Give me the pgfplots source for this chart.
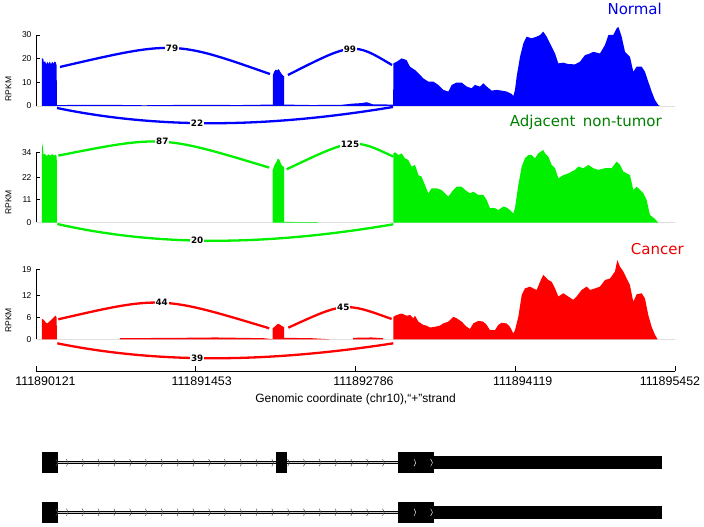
\documentclass[border=0pt]{standalone}
\usepackage{pgfplots}
\pgfplotsset{compat=1.18}
\usepackage{fontspec}
\setmainfont{Liberation Sans}
\newfontfamily\dejavu{DejaVu Sans}
\definecolor{cblue}{RGB}{0,0,255}
\definecolor{cgreen}{RGB}{0,240,0}
\definecolor{cred}{RGB}{255,0,0}
\definecolor{tgreen}{RGB}{0,128,0}
\definecolor{tblue}{RGB}{0,0,230}
\definecolor{tred}{RGB}{235,0,0}
\pgfdeclareplotmark{chev}{%
  \pgfpathmoveto{\pgfqpoint{-0.9pt}{3.6pt}}%
  \pgfpathlineto{\pgfqpoint{0.9pt}{0pt}}%
  \pgfpathlineto{\pgfqpoint{-0.9pt}{-3.6pt}}%
  \pgfusepathqstroke}
\pgfplotsset{
  panel/.style={scale only axis, width=639pt, xmin=0, xmax=5331, ymin=0,
    axis x line=none, axis y line*=left, clip=false, tick align=inside,
    major tick length=4pt, axis line style={line width=0.9pt, black},
    major tick style={line width=0.9pt, black},
    yticklabel style={font=\fontsize{8.5}{10}\selectfont, xshift=-1pt},
    /pgf/number format/assume math mode=true, anchor=south west}
}
\tikzset{jl/.style={fill=white, inner sep=0.8pt, text=black, font=\dejavu\bfseries\fontsize{8.8}{10}\selectfont}}
\begin{document}
\begin{tikzpicture}[x=1pt,y=1pt]
\path[use as bounding box] (0,0) rectangle (704,527);

% ---------------- Normal ----------------
\begin{axis}[panel, at={(36pt,421pt)}, height=71pt, ymax=30, ytick={0,10,20,30}]
\addplot[gray!25, line width=0.6pt] coordinates {(0,0)(5331,0)};
\addplot[fill=cblue, draw=none] coordinates {(50,0)(50,20.1)(60,20)(66,18.3)(75,19)(85,17.6)(95,18.6)(105,17.8)(115,18.8)(125,17.6)(135,18.7)(145,17.9)(155,18.8)(165,18.4)(172,17.2)(175,0)} \closedcycle;
\addplot[fill=cblue, draw=none] coordinates {(175,0)(175,0.4)(600,0.5)(900,0.3)(1300,0.5)(1700,0.4)(1977,0.6)(1977,0)} \closedcycle;
\addplot[fill=cblue, draw=none] coordinates {(1977,0)(1977,13.2)(1988,14.6)(2000,15.4)(2012,15.0)(2025,15.6)(2038,14.4)(2050,13.5)(2062,12.8)(2069,12.6)(2069,0)} \closedcycle;
\addplot[fill=cblue, draw=none] coordinates {(2069,0)(2069,0.6)(2300,0.4)(2550,0.5)(2640,1.0)(2710,1.2)(2760,1.6)(2810,0.7)(2980,0.6)(2980,0)} \closedcycle;
\addplot[fill=cblue, draw=none] coordinates {(2980,0)(2981,18.0)(3009,18.7)(3050,20.1)(3092,19.4)(3120,16.6)(3162,15.2)(3190,13.8)(3231,11.7)(3273,10.3)(3315,10.3)(3356,8.9)(3398,6.8)(3440,6.1)(3468,8.9)(3509,9.9)(3551,9.9)(3593,8.2)(3635,7.5)(3662,8.9)(3704,8.2)(3732,9.6)(3760,8.2)(3801,6.5)(3843,6.8)(3885,6.5)(3926,6.1)(3968,5.1)(3982,4.2)(3996,6.8)(4010,12.4)(4038,20.8)(4066,26.5)(4093,29.3)(4135,28.6)(4177,29.3)(4205,30.0)(4232,31.4)(4260,29.3)(4288,26.5)(4330,22.2)(4358,18.0)(4399,18.3)(4441,17.7)(4497,17.6)(4538,18.7)(4580,21.5)(4622,22.2)(4649,22.9)(4705,22.2)(4747,25.8)(4775,30.0)(4816,30.0)(4844,32.8)(4858,33.5)(4886,29.3)(4914,22.9)(4955,20.8)(4983,14.5)(5011,16.6)(5053,16.6)(5080,14.5)(5108,10.3)(5136,6.1)(5164,2.5)(5192,0.4)(5206,0)} \closedcycle;
\draw[cblue, line width=2.3pt] (axis cs:200,16.5) .. controls (axis cs:1155,27.7) .. (axis cs:1952,13.5) node[jl, pos=0.5] {79};
\draw[cblue, line width=2.3pt] (axis cs:2102,13.1) .. controls (axis cs:2647,27.1) .. (axis cs:2970,17.3) node[jl, pos=0.5] {99};
\draw[cblue, line width=2.3pt] (axis cs:175,-0.85) .. controls (axis cs:1000,-9.5) and (axis cs:1900,-9.5) .. (axis cs:2978,-0.42) node[jl, pos=0.45] {22};
\end{axis}

% ---------------- Adjacent ----------------
\begin{axis}[panel, at={(36pt,304.3pt)}, height=70.4pt, ymax=34, ytick={0,11,22,34}]
\addplot[gray!25, line width=0.6pt] coordinates {(0,0)(5331,0)};
\addplot[fill=cgreen, draw=none] coordinates {(50,0)(50,33)(53,38.8)(58,36)(63,32.8)(75,33.2)(90,32.2)(105,33)(120,32.4)(135,33.1)(150,32.4)(165,32.8)(173,32)(175,0)} \closedcycle;
\addplot[fill=cgreen, draw=none] coordinates {(1975,0)(1975,25.5)(1990,27.8)(2005,29.3)(2018,31.0)(2030,30.4)(2045,28.2)(2060,27.2)(2071,26.8)(2071,0)} \closedcycle;
\addplot[fill=cgreen, draw=none] coordinates {(2071,0)(2071,0.4)(2200,0.3)(2350,0.3)(2350,0)} \closedcycle;
\addplot[fill=cgreen, draw=none] coordinates {(2981,0)(2981,33.5)(2995,34.0)(3023,32.7)(3050,33.5)(3078,31.1)(3106,30.3)(3134,27.1)(3162,27.9)(3190,23.0)(3217,22.2)(3245,18.2)(3273,14.2)(3301,16.6)(3342,16.6)(3384,15.8)(3412,14.2)(3440,12.6)(3482,15.8)(3509,17.4)(3551,17.4)(3579,15.8)(3621,14.2)(3648,15.0)(3690,13.4)(3732,13.4)(3760,11.0)(3787,7.0)(3829,7.0)(3857,6.1)(3899,7.8)(3926,7.3)(3954,6.1)(3982,4.5)(3996,7.0)(4024,18.2)(4052,27.1)(4079,31.1)(4107,32.7)(4135,32.7)(4163,31.1)(4191,33.5)(4232,35.1)(4246,33.5)(4274,31.9)(4302,27.9)(4330,26.3)(4358,21.4)(4399,23.0)(4441,23.8)(4497,25.5)(4524,27.1)(4566,26.3)(4608,27.9)(4649,26.3)(4691,25.5)(4747,26.3)(4802,26.3)(4844,29.5)(4872,27.9)(4900,24.7)(4928,23.8)(4955,23.0)(4983,15.8)(5011,17.4)(5039,15.8)(5067,14.2)(5094,11.0)(5122,3.7)(5164,1.8)(5192,0)} \closedcycle;
\draw[cgreen, line width=2.3pt] (axis cs:186,32.4) .. controls (axis cs:1050,42.3) .. (axis cs:1946,26.6) node[jl, pos=0.5] {87};
\draw[cgreen, line width=2.3pt] (axis cs:2091,25.8) .. controls (axis cs:2647,41.05) .. (axis cs:2981,31.9) node[jl, pos=0.5] {125};
\draw[cgreen, line width=2.3pt] (axis cs:178,-0.63) .. controls (axis cs:1000,-11.4) and (axis cs:1900,-11.4) .. (axis cs:2981,-0.77) node[jl, pos=0.45] {20};
\end{axis}

% ---------------- Cancer ----------------
\begin{axis}[panel, at={(36pt,187.7pt)}, height=70pt, ymax=19, ytick={0,6,12,19}]
\addplot[gray!25, line width=0.6pt] coordinates {(0,0)(5331,0)};
\addplot[fill=cred, draw=none] coordinates {(50,0)(50,5.5)(65,5.3)(80,4.6)(95,4.3)(110,4.8)(125,5.2)(140,5.7)(155,6.2)(165,6.4)(172,5.9)(175,0)} \closedcycle;
\addplot[fill=cred, draw=none] coordinates {(700,0)(700,0.3)(1200,0.4)(1500,0.5)(1900,0.3)(1975,0)} \closedcycle;
\addplot[fill=cred, draw=none] coordinates {(1975,0)(1975,3.0)(1990,3.4)(2005,3.9)(2020,4.2)(2035,4.0)(2050,3.6)(2065,3.4)(2071,3.3)(2071,0)} \closedcycle;
\addplot[fill=cred, draw=none] coordinates {(2071,0)(2071,0.4)(2300,0.3)(2450,0)} \closedcycle;
\addplot[fill=cred, draw=none] coordinates {(2645,0)(2645,0.4)(2800,0.5)(2895,0.3)(2895,0)} \closedcycle;
\addplot[fill=cred, draw=none] coordinates {(2981,0)(2981,6.1)(3009,6.6)(3050,7.0)(3092,6.4)(3120,6.6)(3148,5.7)(3162,6.4)(3190,4.8)(3231,3.9)(3259,3.7)(3287,3.2)(3329,3.4)(3370,3.7)(3398,4.3)(3440,4.8)(3482,6.1)(3509,5.7)(3551,4.8)(3593,3.4)(3621,2.8)(3648,4.3)(3690,5.0)(3732,4.8)(3760,3.9)(3787,2.5)(3829,2.5)(3857,3.9)(3885,4.5)(3926,4.3)(3954,3.4)(3982,1.6)(3996,2.5)(4024,6.1)(4052,12.0)(4079,13.8)(4121,14.3)(4149,13.8)(4177,13.4)(4205,15.6)(4232,17.5)(4274,16.1)(4302,15.6)(4330,13.8)(4358,11.6)(4399,12.5)(4441,11.6)(4483,10.7)(4510,11.6)(4552,13.4)(4594,14.3)(4622,13.4)(4663,13.8)(4705,14.3)(4747,16.1)(4789,16.5)(4830,18.4)(4850,21.5)(4872,19.7)(4900,18.4)(4928,16.5)(4955,14.7)(4983,10.2)(5011,12.2)(5053,12.5)(5080,11.1)(5108,6.6)(5136,3.4)(5164,1.2)(5186,0)} \closedcycle;
\draw[cred, line width=2.3pt] (axis cs:186,5.43) .. controls (axis cs:1043,11.84) .. (axis cs:1946,2.99) node[jl, pos=0.5] {44};
\draw[cred, line width=2.3pt] (axis cs:2105,3.15) .. controls (axis cs:2573,10.14) .. (axis cs:2967,5.51) node[jl, pos=0.5] {45};
\draw[cred, line width=2.3pt] (axis cs:178,-1.09) .. controls (axis cs:1000,-6.5) and (axis cs:1900,-6.5) .. (axis cs:2981,-1.09) node[jl, pos=0.45] {39};
\end{axis}

% ---------------- coordinate ruler ----------------
\begin{axis}[scale only axis, width=639pt, height=20pt, at={(36pt,155.5pt)}, anchor=south west,
  xmin=0, xmax=5331, ymin=0, ymax=1, axis x line*=bottom, axis y line=none,
  xtick={0,1332,2665,3998,5331},
  xticklabels={\hspace*{19pt}111890121,\hspace*{12pt}111891453,\hspace*{16pt}111892786,\hspace*{15pt}111894119,111895452\hspace*{10pt}},
  tick align=inside, major tick length=5.5pt,
  axis line style={line width=0.9pt, black}, major tick style={line width=0.9pt, black},
  xticklabel style={font=\fontsize{12.4}{14}\selectfont, yshift=-1.5pt},
  xlabel={Genomic coordinate (chr10),“+”strand},
  xlabel style={font=\fontsize{12}{14}\selectfont, yshift=-2pt}]
\addplot[draw=none] coordinates {(0,0)};
\end{axis}

% ---------------- gene models ----------------
\begin{axis}[scale only axis, width=639pt, height=100pt, at={(36pt,0pt)}, anchor=south west,
  xmin=0, xmax=5331, ymin=0, ymax=100, hide axis, clip=false]
% row 1
\addplot[black, line width=2.6pt] coordinates {(173,64.3)(3022,64.3)};
\addplot[gray!45, line width=0.8pt] coordinates {(173,64.3)(3022,64.3)};
\addplot[fill=black, draw=black] coordinates {(53,54.3)(173,54.3)(173,74.3)(53,74.3)} -- cycle;
\addplot[fill=black, draw=black] coordinates {(2000,54.3)(2091,54.3)(2091,74.3)(2000,74.3)} -- cycle;
\addplot[fill=black, draw=black] coordinates {(3022,54.3)(3314,54.3)(3314,74.3)(3022,74.3)} -- cycle;
\addplot[fill=black, draw=black] coordinates {(3314,58.7)(5214,58.7)(5214,70.3)(3314,70.3)} -- cycle;
\addplot[only marks, mark=chev, gray!60!black, mark options={line width=0.5pt}] coordinates {(173,64.3)(261,64.3)(393,64.3)(525,64.3)(657,64.3)(789,64.3)(920,64.3)(1052,64.3)(1184,64.3)(1316,64.3)(1448,64.3)(1579,64.3)(1711,64.3)(1843,64.3)(1975,64.3)(2107,64.3)(2239,64.3)(2370,64.3)(2502,64.3)(2634,64.3)(2766,64.3)(2898,64.3)};
\addplot[only marks, mark=chev, white!80!gray, mark options={line width=0.5pt}] coordinates {(3161,64.3)(3300,64.3)};
% row 2
\addplot[black, line width=2.6pt] coordinates {(173,14.7)(3022,14.7)};
\addplot[gray!45, line width=0.8pt] coordinates {(173,14.7)(3022,14.7)};
\addplot[fill=black, draw=black] coordinates {(53,5)(173,5)(173,24.3)(53,24.3)} -- cycle;
\addplot[fill=black, draw=black] coordinates {(3022,5)(3314,5)(3314,24.3)(3022,24.3)} -- cycle;
\addplot[fill=black, draw=black] coordinates {(3314,8.7)(5214,8.7)(5214,20.3)(3314,20.3)} -- cycle;
\addplot[only marks, mark=chev, gray!60!black, mark options={line width=0.5pt}] coordinates {(173,14.7)(261,14.7)(393,14.7)(525,14.7)(657,14.7)(789,14.7)(920,14.7)(1052,14.7)(1184,14.7)(1316,14.7)(1448,14.7)(1579,14.7)(1711,14.7)(1843,14.7)(1975,14.7)(2107,14.7)(2239,14.7)(2370,14.7)(2502,14.7)(2634,14.7)(2766,14.7)(2898,14.7)};
\addplot[only marks, mark=chev, white!80!gray, mark options={line width=0.5pt}] coordinates {(3161,14.7)(3300,14.7)};
\end{axis}

% ---------------- text ----------------
\node[rotate=90, font=\fontsize{8.5}{10}\selectfont] at (8.5,438) {RPKM};
\node[rotate=90, font=\fontsize{8.5}{10}\selectfont] at (8.5,324.5) {RPKM};
\node[rotate=90, font=\fontsize{8.5}{10}\selectfont] at (8.5,206.5) {RPKM};
\node[anchor=base east, inner sep=0pt, text=tblue, font=\dejavu\fontsize{15}{18}\selectfont] at (662,512) {Normal};
\node[anchor=base east, inner sep=0pt, text=tgreen, font=\dejavu\fontsize{15}{18}\selectfont] at (662,400) {Adjacent\, non-tumor};
\node[anchor=base east, inner sep=0pt, text=tred, font=\dejavu\fontsize{15}{18}\selectfont] at (684,272) {Cancer};
\end{tikzpicture}
\end{document}
